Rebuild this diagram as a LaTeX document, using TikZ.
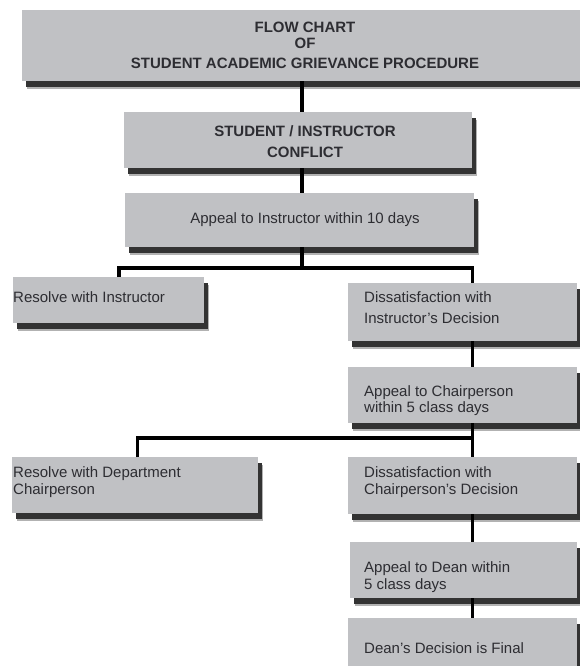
\documentclass[tikz,border=0pt]{standalone}
\usepackage{fontspec}
\setmainfont{Liberation Sans}
\usetikzlibrary{shadows}

\definecolor{boxgrey}{RGB}{192,193,196}
\definecolor{textgrey}{RGB}{45,45,50}

\tikzstyle{grey-box}=[fill=boxgrey, inner sep=0pt, anchor=north west,
  drop shadow={shadow xshift=5pt, shadow yshift=-8pt, fill=black!30, opacity=1},
  drop shadow={shadow xshift=3.5pt, shadow yshift=-5.5pt, fill=black!80, opacity=1}]
\tikzstyle{head-text}=[text=textgrey, font=\bfseries\fontsize{15}{21}\selectfont, align=center, inner sep=0pt]
\tikzstyle{box-text}=[text=textgrey, font=\fontsize{15}{17}\selectfont, align=left, inner sep=0pt]
\tikzstyle{black-line}=[draw=black, line width=3.5pt]

\begin{document}
\begin{tikzpicture}[x=1pt, y=-1pt]
    \useasboundingbox (0,0) rectangle (580,666);
    \clip (0,0) rectangle (580,666);

    % boxes, placed by their top left corner
    \node (title)[grey-box, minimum width=570pt, minimum height=71pt] at (22,10) {};
    \node (conflict)[grey-box, minimum width=348pt, minimum height=56pt] at (124,112) {};
    \node (appeal-i)[grey-box, minimum width=349pt, minimum height=54pt] at (125,193) {};
    \node (resolve-i)[grey-box, minimum width=191pt, minimum height=46pt] at (13,277) {};
    \node (dissat-i)[grey-box, minimum width=229pt, minimum height=58pt] at (348,283) {};
    \node (appeal-c)[grey-box, minimum width=229pt, minimum height=56pt] at (348,367) {};
    \node (resolve-c)[grey-box, minimum width=246pt, minimum height=56pt] at (12,457) {};
    \node (dissat-c)[grey-box, minimum width=229pt, minimum height=57pt] at (348,457) {};
    \node (appeal-d)[grey-box, minimum width=227pt, minimum height=56pt] at (350,542) {};
    \node (final)[grey-box, minimum width=229pt, minimum height=60pt] at (348,618) {};

    % texts
    \node (title-t)[head-text, font=\bfseries\fontsize{15}{15.7}\selectfont] at (305,45.5)
        {FLOW CHART\\OF\\[4.3pt]STUDENT ACADEMIC GRIEVANCE PROCEDURE};
    \node (conflict-t)[head-text] at (305,141.5) {STUDENT / INSTRUCTOR\\CONFLICT};
    \node (appeal-i-t)[box-text, anchor=base] at (305,223) {Appeal to Instructor within 10 days};
    \node (resolve-i-t)[box-text, anchor=base west] at (13,302.5) {Resolve with Instructor};
    \node (dissat-i-t)[box-text, anchor=west, font=\fontsize{15}{21}\selectfont] at (364,307.5)
        {Dissatisfaction with\\Instructor's Decision};
    \node (appeal-c-t)[box-text, anchor=west, font=\fontsize{15}{16}\selectfont] at (364,400.5)
        {Appeal to Chairperson\\within 5 class days};
    \node (resolve-c-t)[box-text, anchor=west] at (13,482.5) {Resolve with Department\\Chairperson};
    \node (dissat-c-t)[box-text, anchor=west] at (364,482.5) {Dissatisfaction with\\Chairperson's Decision};
    \node (appeal-d-t)[box-text, anchor=west] at (364,577.5) {Appeal to Dean within\\5 class days};
    \node (final-t)[box-text, anchor=base west] at (364,653) {Dean's Decision is Final};

    % connectors
    \coordinate (spine) at (302,0);
    \coordinate (rspine) at (472.5,0);
    \coordinate (fork-i) at (302,268);
    \coordinate (fork-c) at (472.5,438);
    \coordinate (left-i) at (119,268);
    \coordinate (left-c) at (137.5,438);

    \draw[black-line] (title.south -| spine) -- (conflict.north -| spine);
    \draw[black-line] (conflict.south -| spine) -- (appeal-i.north -| spine);
    \draw[black-line] (appeal-i.south -| spine) -- (fork-i);
    \draw[black-line] (resolve-i.north -| left-i) -- (left-i) -- (fork-i -| rspine) -- (dissat-i.north -| rspine);
    \draw[black-line] (dissat-i.south -| rspine) -- (appeal-c.north -| rspine);
    \draw[black-line] (appeal-c.south -| rspine) -- (dissat-c.north -| rspine);
    \draw[black-line] (resolve-c.north -| left-c) -- (left-c) -- (fork-c);
    \draw[black-line] (dissat-c.south -| rspine) -- (appeal-d.north -| rspine);
    \draw[black-line] (appeal-d.south -| rspine) -- (final.north -| rspine);
\end{tikzpicture}
\end{document}
